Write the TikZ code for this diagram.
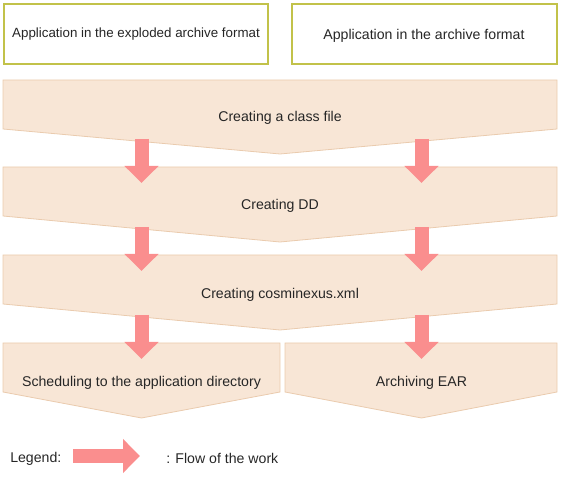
\documentclass[tikz,border=0pt]{standalone}
\usepackage{fontspec}
\setmainfont{Liberation Sans}
\usetikzlibrary{arrows.meta}
\definecolor{olive}{HTML}{C2C24A}
\definecolor{peach}{HTML}{F8E6D6}
\definecolor{peachline}{HTML}{EACBAE}
\definecolor{flowred}{HTML}{FA8E8E}
\tikzset{
  px/.style={x=0.75pt,y=-0.75pt},
  srcbox/.style={draw=olive,line width=1.5pt,fill=white},
  stage/.style={draw=peachline,fill=peach,line width=0.6pt,line join=miter},
  lbl/.style={font=\fontsize{10.6pt}{12pt}\selectfont,text=black!85,inner sep=0pt,yshift=-1.2pt},
  lblsmall/.style={font=\fontsize{10pt}{12pt}\selectfont,text=black!85,inner sep=0pt,yshift=-1.2pt},
  flow/.style={draw=flowred,line width=10.5pt,-{Triangle[width=24.75pt,length=12.75pt]}},
}
\begin{document}
\begin{tikzpicture}[px]
\useasboundingbox (0,0) rectangle (561,477);
% top boxes
\draw[srcbox] (4,4) rectangle (268,64);
\draw[srcbox] (292,4) rectangle (557,64);
\node[lblsmall] (s1) at (136,32) {Application in the exploded archive format};
\node[lbl] (s2) at (424,34) {Application in the archive format};
% stages
\draw[stage] (3,80) -- (557,80) -- (557,129) -- (280,154) -- (3,129) -- cycle;
\node[lbl] (p1) at (280,116) {Creating a class file};
\draw[stage] (3,167) -- (557,167) -- (557,216) -- (280,242) -- (3,216) -- cycle;
\node[lbl] (p2) at (280,204) {Creating DD};
\draw[stage] (3,255) -- (557,255) -- (557,304) -- (280,330) -- (3,304) -- cycle;
\node[lbl] (p3) at (280,293) {Creating cosminexus.xml};
\draw[stage] (3,343) -- (280,343) -- (280,392) -- (141.5,418) -- (3,392) -- cycle;
\node[lbl] (p4) at (141.5,381) {Scheduling to the application directory};
\draw[stage] (285,343) -- (557,343) -- (557,392) -- (421.5,418) -- (285,392) -- cycle;
\node[lbl] (p5) at (421.5,381) {Archiving EAR};
% arrows
\foreach \x/\n in {141.5/L,421.5/R}{
  \coordinate (a1\n s) at (\x,139); \coordinate (a1\n e) at (\x,183);
  \coordinate (a2\n s) at (\x,227); \coordinate (a2\n e) at (\x,271);
  \coordinate (a3\n s) at (\x,315); \coordinate (a3\n e) at (\x,359);
  \draw[flow] (a1\n s) -- (a1\n e);
  \draw[flow] (a2\n s) -- (a2\n e);
  \draw[flow] (a3\n s) -- (a3\n e);
}
% legend
\node[lbl,anchor=west] (leg) at (10,457) {Legend:};
\coordinate (lgs) at (73,456);
\coordinate (lge) at (140,456);
\draw[flow] (lgs) -- (lge);
\node[lbl,anchor=west] (legt) at (166,457) {: Flow of the work};
\end{tikzpicture}
\end{document}
